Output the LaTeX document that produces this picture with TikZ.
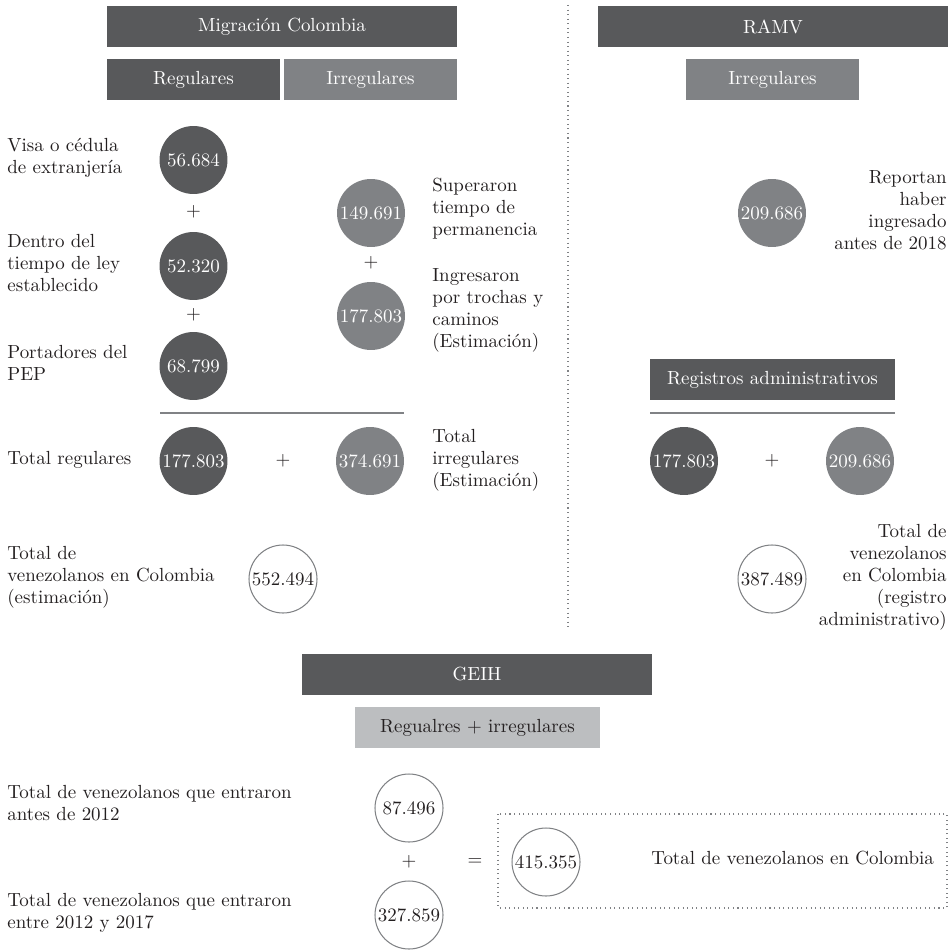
\documentclass[tikz,border=0pt]{standalone}
\usepackage{fontspec}
\definecolor{dkgray}{HTML}{58595B}
\definecolor{mdgray}{HTML}{808285}
\definecolor{ltgray}{HTML}{BCBEC0}
\definecolor{txt}{HTML}{231F20}
\begin{document}
\begin{tikzpicture}[x=0.02cm, y=-0.02cm,
    every node/.style={font=\fontsize{10.8}{12.5}\selectfont, text=txt, inner sep=0pt},
    hdbox/.style={fill=dkgray, text=white, minimum height=0.82cm},
    mdbox/.style={fill=mdgray, text=white, minimum height=0.82cm},
    ltbox/.style={fill=ltgray, minimum height=0.82cm},
    dkdot/.style={circle, fill=dkgray, text=white, minimum size=1.36cm},
    mddot/.style={circle, fill=mdgray, text=white, minimum size=1.36cm},
    ringdot/.style={circle, draw=mdgray, line width=0.6pt, minimum size=1.36cm},
    lbl/.style={anchor=west, align=left},
    rlbl/.style={anchor=east, align=right}]
    \useasboundingbox (0,0) rectangle (952,949);
    \coordinate (V1) at (568,5);
    \coordinate (V2) at (568,628);
    \coordinate (L1) at (160,413);
    \coordinate (L2) at (404,413);
    \coordinate (L3) at (650,413);
    \coordinate (L4) at (895,413);
    \coordinate (F1) at (498,814);
    \coordinate (F2) at (947,908);
    \draw [dotted, mdgray, line width=0.6pt] (V1) -- (V2);
    \draw [mdgray, line width=0.8pt] (L1) -- (L2);
    \draw [mdgray, line width=0.8pt] (L3) -- (L4);
    \draw [dotted, mdgray, line width=0.6pt] (F1) rectangle (F2);
    % Migracion Colombia
    \node [hdbox, minimum width=7cm]    (MC)  at (282,26.5)  {Migración Colombia};
    \node [hdbox, minimum width=3.46cm] (REG) at (193.5,79.5) {Regulares};
    \node [mdbox, minimum width=3.46cm] (IRR) at (370.5,79.5) {Irregulares};
    \node [dkdot] (C1) at (193.5,160) {56.684};
    \node (P1) at (193.5,212) {+};
    \node [dkdot] (C2) at (193.5,266) {52.320};
    \node (P2) at (193.5,315) {+};
    \node [dkdot] (C3) at (193.5,366) {68.799};
    \node [mddot] (C4) at (371,213) {149.691};
    \node (P3) at (371,263) {+};
    \node [mddot] (C5) at (371,316) {177.803};
    \node [dkdot] (TR) at (193.5,461) {177.803};
    \node (P4) at (283,461) {+};
    \node [mddot] (TI) at (370,461) {374.691};
    \node [ringdot] (TOT) at (283,579) {552.494};
    \node [lbl] (A1) at (7,158) {Visa o cédula\\de extranjería};
    \node [lbl] (A2) at (7,263) {Dentro del\\tiempo de ley\\establecido};
    \node [lbl] (A3) at (7,363) {Portadores del\\PEP};
    \node [lbl] (A4) at (7,460) {Total regulares};
    \node [lbl] (A5) at (7,577) {Total de\\venezolanos en Colombia\\(estimación)};
    \node [lbl] (B1) at (432,209) {Superaron\\tiempo de\\permanencia};
    \node [lbl] (B2) at (432,310) {Ingresaron\\por trochas y\\caminos\\(Estimación)};
    \node [lbl] (B3) at (432,460) {Total\\irregulares\\(Estimación)};
    % RAMV
    \node [hdbox, minimum width=7cm]    (RAMV) at (773,26.5)  {RAMV};
    \node [mdbox, minimum width=3.46cm] (RIRR) at (772.5,79.5) {Irregulares};
    \node [mddot] (R1) at (772,213) {209.686};
    \node [rlbl] (D1) at (947,210) {Reportan\\haber\\ingresado\\antes de 2018};
    \node [hdbox, minimum width=4.9cm] (RA) at (772.5,379.5) {Registros administrativos};
    \node [dkdot] (R2) at (684,461) {177.803};
    \node (P5) at (772,461) {+};
    \node [mddot] (R3) at (860,461) {209.686};
    \node [ringdot] (RTOT) at (772,579) {387.489};
    \node [rlbl] (D2) at (947,577) {Total de\\venezolanos\\en Colombia\\(registro\\administrativo)};
    % GEIH
    \node [hdbox, minimum width=7cm]   (GEIH) at (477,674.5)   {GEIH};
    \node [ltbox, minimum width=4.9cm] (GRI)  at (477.5,727.5) {Regualres + irregulares};
    \node [ringdot] (G1) at (409,808) {87.496};
    \node (P6) at (409,862) {+};
    \node [ringdot] (G2) at (409,915) {327.859};
    \node (EQ) at (475,862) {=};
    \node [ringdot] (GTOT) at (546,862) {415.355};
    \node [lbl] (E1) at (7,803) {Total de venezolanos que entraron\\antes de 2012};
    \node [lbl] (E2) at (7,913) {Total de venezolanos que entraron\\entre 2012 y 2017};
    \node [lbl] (E3) at (651,858) {Total de venezolanos en Colombia};
\end{tikzpicture}
\end{document}
